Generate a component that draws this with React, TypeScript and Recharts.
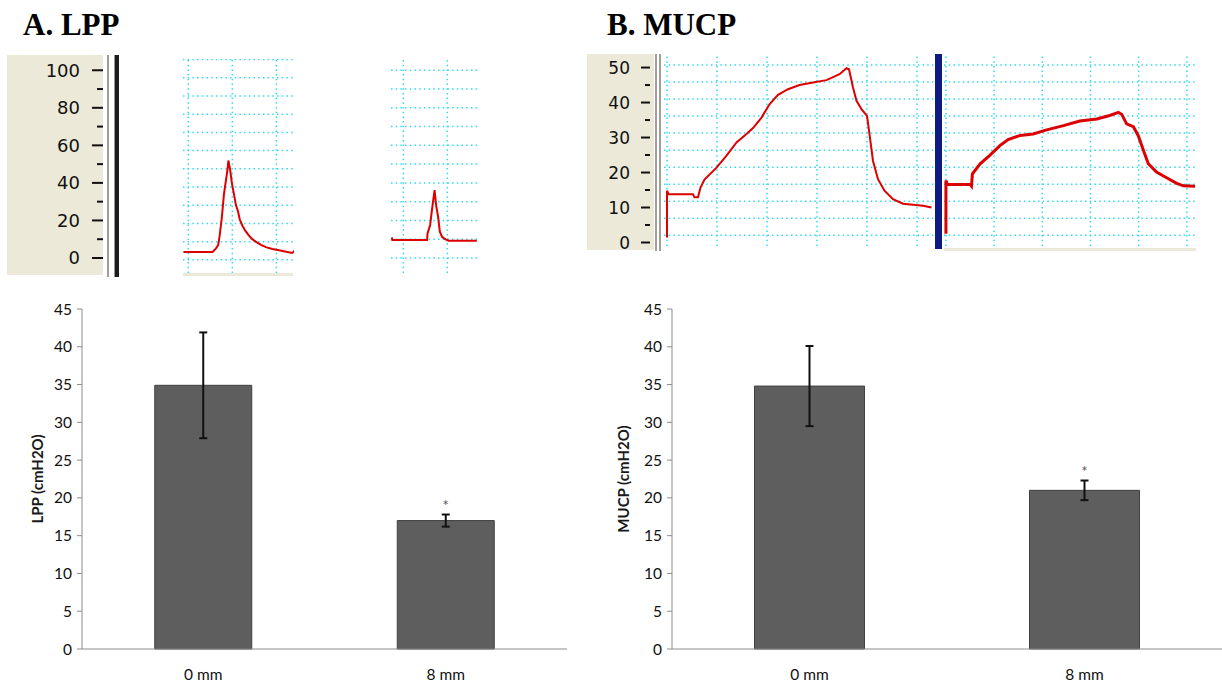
import {
	Bar,
	BarChart,
	ErrorBar,
	LabelList,
	Line,
	LineChart,
	ReferenceLine,
	XAxis,
	YAxis,
} from "recharts";

// pressure traces, time in grid divisions, pressure in cmH2O
const lpp0Time = [-0.11, 0.55, 0.62, 0.68, 0.71, 0.76, 0.81, 0.89, 0.91, 0.95, 0.99, 1.04, 1.08, 1.13, 1.17, 1.23, 1.29, 1.36, 1.44, 1.53, 1.64, 1.76, 1.91, 2.06, 2.25, 2.36, 2.42];
const lpp0Value = [3.2, 3.2, 4.8, 7, 11.5, 21.2, 34, 47, 51.9, 47, 39.8, 33.6, 28.3, 24.8, 20.4, 17.2, 14.7, 12.4, 10.3, 8.7, 7.1, 5.8, 4.8, 4.1, 3.2, 2.7, 3.9];
const lpp8Time = [-0.26, -0.25, 0.54, 0.55, 0.61, 0.65, 0.71, 0.75, 0.79, 0.83, 0.88, 0.96, 1.03, 1.67];
const lpp8Value = [11, 9.6, 9.6, 13.1, 17.6, 25.5, 36.2, 27.3, 22, 14, 11.3, 9.9, 9.2, 9.2];

const mucp0Time = [0, 0, 0.03, 0.52, 0.55, 0.62, 0.67, 0.75, 0.99, 1.19, 1.39, 1.59, 1.72, 1.89, 2.05, 2.22, 2.42, 2.65, 2.92, 3.19, 3.45, 3.59, 3.64, 3.72, 3.79, 3.89, 4.0, 4.05, 4.12, 4.22, 4.35, 4.52, 4.72, 4.92, 5.12, 5.29];
const mucp0Value = [1.4, 14.8, 13.8, 13.8, 12.9, 12.9, 15.7, 18, 21.4, 24.8, 28.6, 31, 32.7, 35.7, 39.5, 42.2, 43.8, 45, 45.7, 46.4, 48.1, 49.8, 49.5, 44.3, 40.5, 38.1, 36.2, 31, 23.3, 18.1, 14.8, 12.4, 11.1, 10.8, 10.5, 10];
const mucp8Time = [0, 0, 0.03, 0.5, 0.53, 0.55, 0.71, 0.91, 1.12, 1.29, 1.54, 1.81, 2.09, 2.44, 2.78, 3.13, 3.4, 3.58, 3.65, 3.75, 3.89, 3.99, 4.1, 4.2, 4.37, 4.58, 4.79, 4.93, 5.17];
const mucp8Value = [2.5, 17.7, 16.6, 16.6, 16.1, 19.6, 22.5, 24.9, 27.7, 29.4, 30.6, 31, 32.2, 33.4, 34.7, 35.3, 36.3, 37.2, 36.6, 33.9, 33.1, 30.6, 26.3, 22.5, 20.1, 18.5, 16.9, 16.2, 16.1];

const lppScaleTicks = [0, 10, 20, 30, 40, 50, 60, 70, 80, 90, 100];
const mucpScaleTicks = [0, 5, 10, 15, 20, 25, 30, 35, 40, 45, 50];

// bar summary
const groups = ["0 mm", "8 mm"];
const lppMean = [34.9, 17.0];
const lppSd = [7.0, 0.8];
const mucpMean = [34.8, 21.0];
const mucpSd = [5.3, 1.3];
const marks = ["", "*"];
const barTicks = [0, 5, 10, 15, 20, 25, 30, 35, 40, 45];

const toTrace = (t: number[], v: number[]) => t.map((x, i) => ({ t: x, v: v[i] }));

const RED = "#dd0000";
const CYAN = "#2fdcee";
const BEIGE = "#ece9d8";
const AXIS = "#8c8c8c";

const abs = (left: number, top: number, extra: any = {}) => ({
	position: "absolute" as const,
	left,
	top,
	...extra,
});

const dotted = { stroke: CYAN, strokeDasharray: "1.5 3.2", strokeWidth: 1.5 };

const TracePanel = ({ data, left, top, width, height, xDomain, yDomain, xTicks, yTicks, strokeWidth = 2 }: any) => (
	<div style={abs(left, top)}>
		<LineChart width={width} height={height} data={data} margin={{ top: 0, right: 0, bottom: 0, left: 0 }}>
			<XAxis type="number" dataKey="t" domain={xDomain} hide allowDataOverflow />
			<YAxis type="number" domain={yDomain} hide allowDataOverflow />
			{/* recorder grid */}
			{yTicks.map((v: number) => (
				<ReferenceLine key={`h${v}`} y={v} {...dotted} />
			))}
			{xTicks.map((v: number) => (
				<ReferenceLine key={`v${v}`} x={v} {...dotted} />
			))}
			<Line
				type="linear"
				dataKey="v"
				stroke={RED}
				strokeWidth={strokeWidth}
				dot={false}
				isAnimationActive={false}
			/>
		</LineChart>
	</div>
);

// scale on the beige strip: long dash + number for major, short dash for minor
const ScaleTick = (props: any) => {
	const { x, y, payload, every, gap, majorLen, minorLen, fontSize } = props;
	const major = payload.value % every === 0;
	return (
		<g>
			<line x1={x - (major ? majorLen : minorLen)} x2={x} y1={y} y2={y} stroke="#111" strokeWidth={2} />
			{major && (
				<text x={x - gap} y={y} dy="0.36em" textAnchor="end" fontSize={fontSize} fontFamily="DejaVu Sans" fill="#111">
					{payload.value}
				</text>
			)}
		</g>
	);
};

const ScalePanel = ({ left, top, width, height, domain, ticks, tickProps }: any) => (
	<div style={abs(left, top)}>
		<LineChart
			width={width + 2}
			height={height}
			data={ticks.map((v: number) => ({ v }))}
			margin={{ top: 0, right: 0, bottom: 0, left: 0 }}
		>
			<XAxis hide />
			<YAxis
				type="number"
				domain={domain}
				ticks={ticks}
				interval={0}
				width={width}
				axisLine={false}
				tickLine={false}
				tickSize={0}
				tickMargin={0}
				allowDataOverflow
				tick={(p: any) => <ScaleTick {...p} {...tickProps} />}
			/>
			<Line dataKey="v" stroke="none" dot={false} isAnimationActive={false} />
		</LineChart>
	</div>
);

const AxisTitle = (props: any) => {
	const { viewBox, text, dx } = props;
	const cx = viewBox.x + dx;
	const cy = viewBox.y + viewBox.height / 2;
	return (
		<text
			x={cx}
			y={cy}
			transform={`rotate(-90 ${cx} ${cy})`}
			textAnchor="middle"
			dominantBaseline="central"
			fontFamily="Lato"
			fontWeight="bold"
			fontSize={15}
			fill="#1a1a1a"
		>
			{text}
		</text>
	);
};

const PressureBars = ({ title, means, sds, left, width, yWidth, titleDx, right }: any) => {
	const data = groups.map((g, i) => ({ group: g, mean: means[i], sd: sds[i], mark: marks[i] }));
	const SigMark = (p: any) => {
		const { x, y, width: w, height: h, index, value } = p;
		if (!value) return null;
		const errTop = y - (sds[index] * h) / means[index];
		return (
			<text x={x + w / 2} y={errTop - 4} textAnchor="middle" fontSize={15} fontFamily="Lato" fill="#555">
				{value}
			</text>
		);
	};
	return (
		<div style={abs(left, 290)}>
			<BarChart
				width={width}
				height={393}
				data={data}
				margin={{ top: 19, right, bottom: 4, left: 0 }}
				barCategoryGap="30%"
			>
				<XAxis
					xAxisId="edge"
					type="number"
					domain={[0, groups.length]}
					ticks={[0, ...groups.map((_, i) => i + 1)]}
					tick={false}
					tickSize={6}
					axisLine={false}
					height={0}
					stroke={AXIS}
					allowDataOverflow
				/>
				<XAxis
					xAxisId="cat"
					dataKey="group"
					tickLine={false}
					tickSize={0}
					tickMargin={20}
					height={30}
					stroke={AXIS}
					tick={{ fill: "#111", fontSize: 15.5, fontFamily: "Lato" }}
				/>
				<YAxis
					domain={[0, 45]}
					ticks={barTicks}
					interval={0}
					width={yWidth}
					tickSize={5}
					tickMargin={5}
					stroke={AXIS}
					tick={{ fill: "#111", fontSize: 15.5, fontFamily: "Lato" }}
					label={<AxisTitle text={title} dx={titleDx} />}
				/>
				<Bar xAxisId="cat" dataKey="mean" fill="#5e5e5e" stroke="#404040" isAnimationActive={false}>
					<ErrorBar dataKey="sd" width={4} stroke="#111" strokeWidth={2} />
					<LabelList dataKey="mark" content={SigMark} />
				</Bar>
			</BarChart>
		</div>
	);
};

const titleStyle = {
	fontFamily: "'Liberation Serif', serif",
	fontWeight: "bold" as const,
	fontSize: 31,
	lineHeight: "31px",
	whiteSpace: "nowrap" as const,
};

const lppGrid = Array.from({ length: 12 }, (_, i) => -1 + i * 9.7);
const mucpGrid = Array.from({ length: 11 }, (_, i) => 2.1 + i * 4.86);

export default function App() {
	return (
		<div style={abs(0, 0, { width: 1222, height: 683, background: "#fff", overflow: "hidden" })}>
			<div style={abs(23, 9, titleStyle)}>A. LPP</div>
			<div style={abs(607, 9, titleStyle)}>B. MUCP</div>

			{/* A: recorder scale and two traces */}
			<div style={abs(7, 55, { width: 96, height: 220, background: BEIGE })} />
			<div style={abs(107, 55, { width: 2, height: 222, background: "#a09e96" })} />
			<div style={abs(114, 55, { width: 4, height: 222, background: "#1c1c1c", borderLeft: "1px solid #9a9890" })} />
			<ScalePanel
				left={7}
				top={59}
				width={96}
				height={214}
				domain={[-8, 106]}
				ticks={lppScaleTicks}
				tickProps={{ every: 20, gap: 23, majorLen: 11, minorLen: 6, fontSize: 18 }}
			/>
			<div style={abs(183, 273, { width: 110, height: 3, background: BEIGE })} />
			<TracePanel
				data={toTrace(lpp0Time, lpp0Value)}
				left={183}
				top={59}
				width={111}
				height={214}
				xDomain={[-0.12, 2.4]}
				yDomain={[-8, 106]}
				xTicks={[0, 1, 2]}
				yTicks={lppGrid}
			/>
			<TracePanel
				data={toTrace(lpp8Time, lpp8Value)}
				left={391}
				top={59}
				width={88}
				height={214}
				xDomain={[-0.28, 1.72]}
				yDomain={[-8, 106]}
				xTicks={[0, 1]}
				yTicks={lppScaleTicks}
			/>

			{/* B: recorder scale and two traces */}
			<div style={abs(587, 54, { width: 67, height: 196, background: BEIGE })} />
			<div style={abs(655, 54, { width: 2, height: 197, background: "#a09e96" })} />
			<div style={abs(659, 54, { width: 2, height: 197, background: "#a09e96" })} />
			<ScalePanel
				left={587}
				top={56}
				width={63}
				height={197}
				domain={[-3, 53.3]}
				ticks={mucpScaleTicks}
				tickProps={{ every: 10, gap: 20, majorLen: 9, minorLen: 5, fontSize: 17 }}
			/>
			<TracePanel
				data={toTrace(mucp0Time, mucp0Value)}
				left={664}
				top={56}
				width={271}
				height={190}
				xDomain={[-0.06, 5.36]}
				yDomain={[-1, 53.3]}
				xTicks={[0, 1, 2, 3, 4, 5]}
				yTicks={mucpGrid}
			/>
			<div style={abs(935, 54, { width: 7, height: 195, background: "#0d1b85" })} />
			<div style={abs(944, 248, { width: 252, height: 3, background: BEIGE })} />
			<TracePanel
				data={toTrace(mucp8Time, mucp8Value)}
				left={944}
				top={56}
				width={252}
				height={190}
				xDomain={[-0.04, 5.19]}
				yDomain={[-1, 53.3]}
				xTicks={[0, 1, 2, 3, 4, 5]}
				yTicks={mucpGrid}
				strokeWidth={3}
			/>

			{/* summary bars */}
			<PressureBars title="LPP (cmH2O)" means={lppMean} sds={lppSd} left={0} width={580} yWidth={82} titleDx={37} right={13} />
			<PressureBars title="MUCP (cmH2O)" means={mucpMean} sds={mucpSd} left={580} width={642} yWidth={92} titleDx={43} right={0} />
		</div>
	);
}
